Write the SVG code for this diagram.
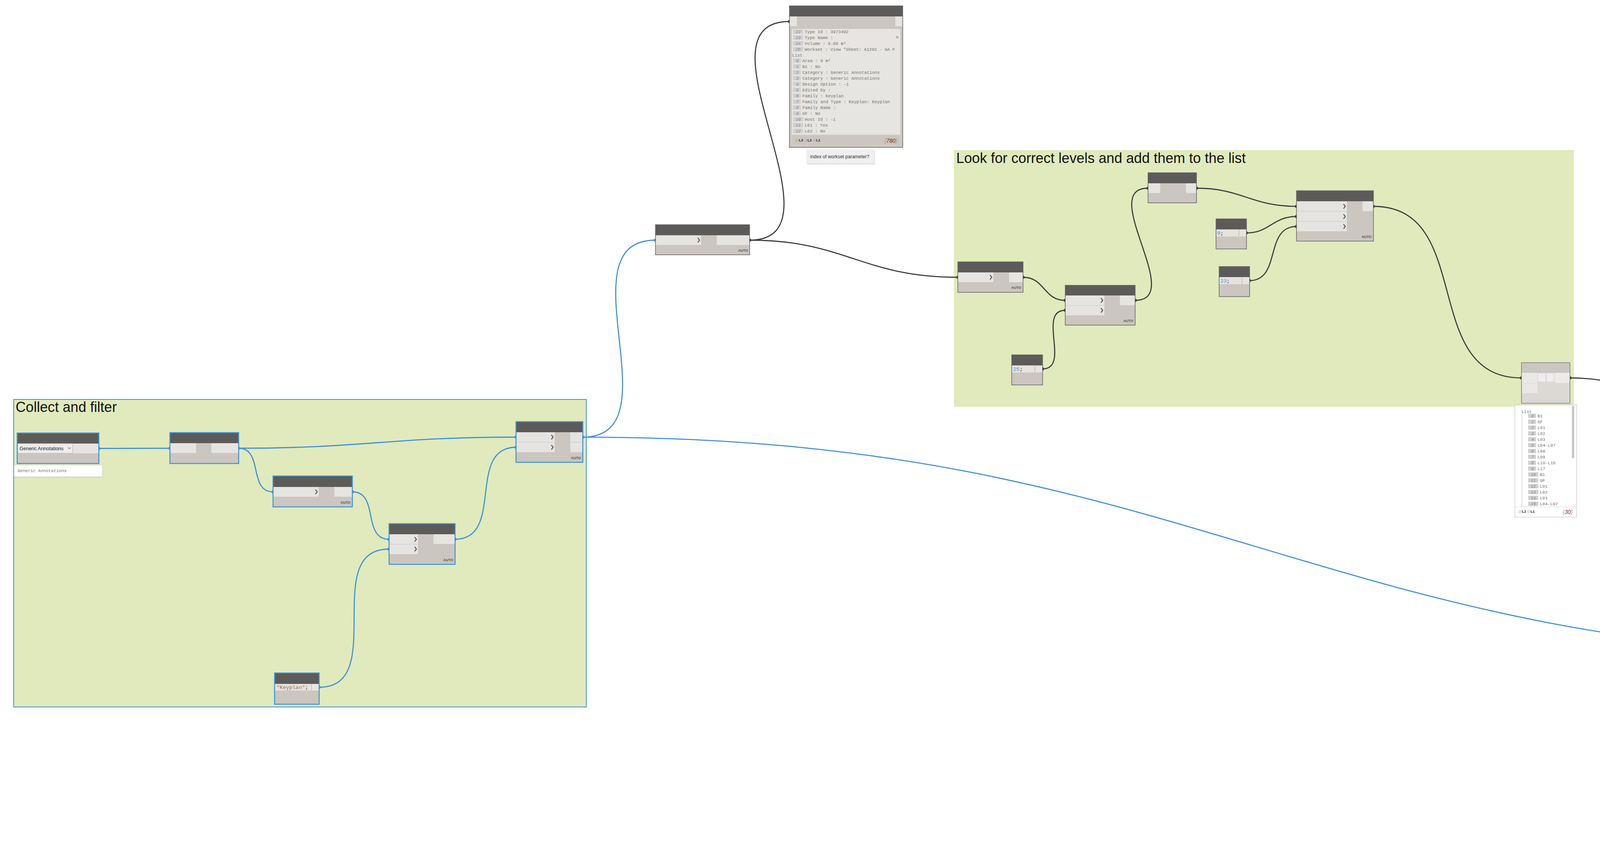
<svg xmlns="http://www.w3.org/2000/svg" width="5254" height="2198" viewBox="0 0 5254 2198">
<style>
.hd{fill:#5c5b59}
.bd{fill:#cbc6bf}
.pt{fill:#e5e4e0}
.bs{fill:none;stroke:#3f8fdb;stroke-width:2.5}
.bn{fill:none;stroke:#616161;stroke-width:1.5}
.ch{fill:none;stroke:#555;stroke-width:2.4;stroke-linejoin:round;stroke-linecap:round}
.auto{font-family:'Liberation Sans',Arial,sans-serif;font-size:9px;font-weight:bold;fill:#555;text-anchor:end}
.ttl{font-family:'Liberation Sans',Arial,sans-serif;font-size:36px;fill:#111}
.mono{font-family:'Liberation Mono','DejaVu Sans Mono',monospace;font-size:11px;fill:#727272}
.idx{fill:#d0d0d0}
.idxt{font-family:'Liberation Mono','DejaVu Sans Mono',monospace;font-size:11px;font-style:italic;fill:#8a8a8a;text-anchor:middle}
.code{font-family:'Liberation Mono','DejaVu Sans Mono',monospace;font-size:13.5px}
.w{fill:none;stroke:#3b3b3b;stroke-width:2.8}
.wb{fill:none;stroke:#3f8fdb;stroke-width:2.8}
.kn{fill:#3b3b3b}
.knb{fill:#3f8fdb}
.lv{font-family:'Liberation Sans',Arial,sans-serif;font-size:9px;font-weight:bold;fill:#222}
.at{fill:#aaa;font-weight:normal}
.cnt{font-family:'Liberation Sans',Arial,sans-serif;font-size:14px;font-style:italic;fill:#8b1a1a;text-anchor:end}
.br{fill:#999}
.num{font-family:'Liberation Sans',Arial,sans-serif;font-size:12.5px;fill:#666}
.grn{fill:#c8f5c8}
.sans{font-family:'Liberation Sans',Arial,sans-serif}
</style>
<defs>
<clipPath id="clipW"><rect x="2027" y="74" width="272" height="270"/></clipPath>
<clipPath id="clipL"><rect x="3879" y="1037" width="156" height="259"/></clipPath>
</defs>

<g id="groups">
<rect x="35" y="1022" width="1466" height="787" fill="#e0eabc" stroke="#3f8fdb" stroke-width="2"/>
<text class="ttl" x="40" y="1054" textLength="259" lengthAdjust="spacingAndGlyphs">Collect and filter</text>
<rect x="2442" y="384" width="1587" height="657" fill="#e0eabc"/>
<text class="ttl" x="2448" y="417" textLength="741" lengthAdjust="spacingAndGlyphs">Look for correct levels and add them to the list</text>
<rect x="4290" y="1584" width="938" height="577" fill="#ffd4a2"/>
<text class="ttl" x="4295" y="1617" textLength="111" lengthAdjust="spacingAndGlyphs">Action!</text>
</g>

<g id="connectors">
<path class="wb" d="M253,1147.5 C335,1147.5 353,1147 435,1147"/>
<path class="wb" d="M610.6,1147 C931,1147 1001,1118.5 1321,1118.5"/>
<path class="wb" d="M610.6,1147 C675,1147 635,1258.5 699,1258.5"/>
<path class="wb" d="M902,1258.5 C971,1258.5 927,1380 996,1380"/>
<path class="wb" d="M817,1758.5 C995,1758.5 818,1405 996,1405"/>
<path class="wb" d="M1164.6,1380 C1293,1380 1193,1144.5 1321,1144.5"/>
<path class="wb" d="M1492,1118.5 C1733,1118.5 1437,614.5 1678,614.5"/>
<path class="wb" d="M1492,1118.5 C3067,1118.5 3372,1681.5 4947,1681.5"/>
<path class="w" d="M1919,614.5 C2175,614.5 1765,55 2021,55"/>
<path class="w" d="M1919,614.5 C2163,614.5 2208,709.5 2452,709.5"/>
<path class="w" d="M2619,709.5 C2675,709.5 2671,768.5 2727,768.5"/>
<path class="w" d="M2669,944 C2741,944 2655,794 2727,794"/>
<path class="w" d="M2906,768.5 C3036,768.5 2809,481.5 2939,481.5"/>
<path class="w" d="M3063,481.5 C3180,481.5 3202,528 3319,528"/>
<path class="w" d="M3190.5,596 C3251,596 3258,554 3319,554"/>
<path class="w" d="M3198.5,718 C3281,718 3236,579.5 3319,579.5"/>
<path class="w" d="M3515.5,528 C3777,528 3633,967 3895,967"/>
<path class="w" d="M4019,967 C4553,967 4413,1707.5 4947,1707.5"/>
<path class="w" d="M4435,2138.5 C4728,2138.5 4654,1733.5 4947,1733.5"/>
<g class="knb">
<circle cx="253" cy="1147.5" r="4"/><circle cx="435" cy="1147" r="4"/>
<circle cx="610.6" cy="1147" r="4"/><circle cx="1321" cy="1118.5" r="4"/>
<circle cx="699" cy="1258.5" r="4"/><circle cx="902" cy="1258.5" r="4"/>
<circle cx="996" cy="1380" r="4"/><circle cx="817" cy="1758.5" r="4"/>
<circle cx="996" cy="1405" r="4"/><circle cx="1164.6" cy="1380" r="4"/>
<circle cx="1321" cy="1144.5" r="4"/><circle cx="1492" cy="1118.5" r="4"/>
<circle cx="1678" cy="614.5" r="4"/><circle cx="4947" cy="1681.5" r="4"/>
</g>
<g class="kn">
<circle cx="1919" cy="614.5" r="4"/><circle cx="2021" cy="55" r="4"/>
<circle cx="2452" cy="709.5" r="4"/><circle cx="2619" cy="709.5" r="4"/>
<circle cx="2727" cy="768.5" r="4"/><circle cx="2669" cy="944" r="4"/>
<circle cx="2727" cy="794" r="4"/><circle cx="2906" cy="768.5" r="4"/>
<circle cx="2939" cy="481.5" r="4"/><circle cx="3063" cy="481.5" r="4"/>
<circle cx="3319" cy="528" r="4"/><circle cx="3190.5" cy="596" r="4"/>
<circle cx="3319" cy="554" r="4"/><circle cx="3198.5" cy="718" r="4"/>
<circle cx="3319" cy="579.5" r="4"/><circle cx="3515.5" cy="528" r="4"/>
<circle cx="3895" cy="967" r="4"/><circle cx="4019" cy="967" r="4"/>
<circle cx="4947" cy="1707.5" r="4"/><circle cx="4435" cy="2138.5" r="4"/>
<circle cx="4947" cy="1733.5" r="4"/>
</g>
</g>

<g id="node-categories">
<rect x="44" y="1108" width="209" height="78" class="bd"/>
<rect x="44" y="1108" width="209" height="27" class="hd"/>
<rect x="186" y="1135" width="66" height="25" class="pt"/>
<rect x="45" y="1135" width="141" height="25" fill="#ececec" stroke="#b0b0b0" stroke-width="1"/>
<text class="sans" x="50" y="1152" font-size="12.5" fill="#222">Generic Annotations</text>
<path d="M174,1145 L177.5,1148.5 L181,1145" fill="none" stroke="#666" stroke-width="1.2"/>
<rect x="44" y="1108" width="209" height="78" class="bs"/>
</g>
<g id="preview-categories">
<rect x="36" y="1192" width="226" height="30" fill="#d0d0d0"/>
<rect x="36" y="1190" width="226" height="30" fill="#ffffff" stroke="#cfcfcf" stroke-width="1"/>
<text class="mono" x="45" y="1208" fill="#8a8a8a">Generic Annotations</text>
</g>

<g id="node-all-elements">
<rect x="435" y="1107" width="176" height="79" class="bd"/>
<rect x="435" y="1107" width="176" height="27" class="hd"/>
<rect x="436" y="1134" width="66" height="25" class="pt"/>
<rect x="541" y="1134" width="69" height="25" class="pt"/>
<rect x="435" y="1107" width="176" height="79" class="bs"/>
</g>

<g id="node-get-parameter">
<rect x="699" y="1218" width="203" height="79" class="bd"/>
<rect x="699" y="1218" width="203" height="28" class="hd"/>
<rect x="700" y="1246" width="116" height="25" class="pt"/>
<rect x="856" y="1246" width="45" height="25" class="pt"/>
<path class="ch" d="M808,1253.5 L812,1258.5 L808,1263.5"/>
<text class="auto" x="897" y="1289">AUTO</text>
<rect x="699" y="1218" width="203" height="79" class="bs"/>
</g>

<g id="node-contains">
<rect x="996" y="1340" width="169" height="104" class="bd"/>
<rect x="996" y="1340" width="169" height="27" class="hd"/>
<rect x="997" y="1367" width="73" height="25" class="pt"/>
<rect x="997" y="1393" width="73" height="25" class="pt"/>
<rect x="1110" y="1367" width="54" height="25" class="pt"/>
<path class="ch" d="M1062,1375 L1066,1380 L1062,1385"/>
<path class="ch" d="M1062,1400 L1066,1405 L1062,1410"/>
<text class="auto" x="1160" y="1436">AUTO</text>
<rect x="996" y="1340" width="169" height="104" class="bs"/>
</g>

<g id="node-filter">
<rect x="1321" y="1079" width="171" height="104" class="bd"/>
<rect x="1321" y="1079" width="171" height="27" class="hd"/>
<rect x="1322" y="1106" width="98" height="25" class="pt"/>
<rect x="1322" y="1132" width="98" height="25" class="pt"/>
<rect x="1460" y="1106" width="31" height="25" class="pt"/>
<rect x="1460" y="1132" width="31" height="25" class="pt"/>
<path class="ch" d="M1412,1113.5 L1416,1118.5 L1412,1123.5"/>
<path class="ch" d="M1412,1139.5 L1416,1144.5 L1412,1149.5"/>
<text class="auto" x="1487" y="1175">AUTO</text>
<rect x="1321" y="1079" width="171" height="104" class="bs"/>
</g>

<g id="node-code-keyplan">
<rect x="703" y="1722" width="114" height="80" class="bd"/>
<rect x="703" y="1722" width="114" height="28" class="hd"/>
<rect x="704" y="1750" width="93" height="17" fill="#e6e3df"/>
<rect x="798" y="1750" width="18" height="17" class="pt"/>
<line x1="797.5" y1="1750" x2="797.5" y2="1767" stroke="#a8a8a8" stroke-width="1"/>
<text class="code" x="708" y="1763"><tspan fill="#9c6b48">"Keyplan"</tspan><tspan fill="#333">;</tspan></text>
<rect x="703" y="1722" width="114" height="80" class="bs"/>
</g>

<g id="node-middle">
<rect x="1678" y="575" width="241" height="77" class="bd"/>
<rect x="1678" y="575" width="241" height="27" class="hd"/>
<rect x="1679" y="602" width="116" height="25" class="pt"/>
<rect x="1835" y="602" width="83" height="25" class="pt"/>
<path class="ch" d="M1787,609.5 L1791,614.5 L1787,619.5"/>
<text class="auto" x="1915" y="644">AUTO</text>
<rect x="1678" y="575" width="241" height="77" class="bn"/>
</g>

<g id="node-watch-parameters">
<rect x="2021" y="15" width="290" height="362" class="bd"/>
<rect x="2021" y="15" width="290" height="27" class="hd"/>
<rect x="2022" y="42" width="18" height="25" class="pt"/>
<rect x="2292" y="42" width="18" height="25" class="pt"/>
<rect x="2027" y="74" width="278" height="270" fill="#e6e5e1"/>
<circle cx="2297" cy="95" r="3" fill="#aaa"/>
<g clip-path="url(#clipW)">
<g class="idx">
<rect x="2030" y="75.5" width="26" height="11"/>
<rect x="2030" y="90.5" width="26" height="11"/>
<rect x="2030" y="105.5" width="26" height="11"/>
<rect x="2030" y="120.5" width="26" height="11"/>
<rect x="2030" y="149.5" width="20" height="11"/>
<rect x="2030" y="164.5" width="20" height="11"/>
<rect x="2030" y="179.5" width="20" height="11"/>
<rect x="2030" y="194.5" width="20" height="11"/>
<rect x="2030" y="209.5" width="20" height="11"/>
<rect x="2030" y="224.5" width="20" height="11"/>
<rect x="2030" y="239.5" width="20" height="11"/>
<rect x="2030" y="254.5" width="20" height="11"/>
<rect x="2030" y="269.5" width="20" height="11"/>
<rect x="2030" y="284.5" width="20" height="11"/>
<rect x="2030" y="299.5" width="26" height="11"/>
<rect x="2030" y="314.5" width="26" height="11"/>
<rect x="2030" y="329.5" width="26" height="11"/>
</g>
<g class="idxt">
<text x="2043" y="85">22</text>
<text x="2043" y="100">23</text>
<text x="2043" y="115">24</text>
<text x="2043" y="130">25</text>
<text x="2041" y="159">0</text>
<text x="2041" y="174">1</text>
<text x="2041" y="189">2</text>
<text x="2041" y="204">3</text>
<text x="2041" y="219">4</text>
<text x="2041" y="234">5</text>
<text x="2041" y="249">6</text>
<text x="2041" y="264">7</text>
<text x="2041" y="279">8</text>
<text x="2041" y="294">9</text>
<text x="2043" y="309">10</text>
<text x="2043" y="324">11</text>
<text x="2043" y="339">12</text>
</g>
<g class="mono">
<text x="2060" y="85">Type Id : 3973492</text>
<text x="2060" y="100">Type Name :</text>
<text x="2060" y="115">Volume : 0.00 m³</text>
<text x="2060" y="130">Workset : View "Sheet: A1202 - GA F</text>
<text x="2028" y="145">List</text>
<text x="2054" y="159">Area : 0 m²</text>
<text x="2054" y="174">B1 : No</text>
<text x="2054" y="189">Category : Generic Annotations</text>
<text x="2054" y="204">Category : Generic Annotations</text>
<text x="2054" y="219">Design Option : -1</text>
<text x="2054" y="234">Edited by :</text>
<text x="2054" y="249">Family : Keyplan</text>
<text x="2054" y="264">Family and Type : Keyplan: Keyplan</text>
<text x="2054" y="279">Family Name :</text>
<text x="2054" y="294">GF : No</text>
<text x="2060" y="309">Host Id : -1</text>
<text x="2060" y="324">L01 : Yes</text>
<text x="2060" y="339">L02 : No</text>
</g>
</g>
<rect x="2027" y="345" width="278" height="27" fill="none" stroke="#dedbd6" stroke-width="1"/>
<text class="lv" x="2036" y="362"><tspan class="at">@</tspan>L3 <tspan class="at">@</tspan>L2 <tspan class="at">@</tspan>L1</text>
<text class="cnt" x="2297" y="365"><tspan class="br">{</tspan>780<tspan class="br">}</tspan></text>
<rect x="2021" y="15" width="290" height="362" class="bn"/>
</g>

<g id="note-workset">
<rect x="2066" y="386" width="174" height="35" fill="#e2e2e2"/>
<rect x="2064" y="383" width="174" height="35" fill="#efefef"/>
<text class="sans" x="2074" y="405" font-size="12" fill="#333">index of workset parameter?</text>
</g>

<g id="node-a">
<rect x="2452" y="670" width="167" height="78" class="bd"/>
<rect x="2452" y="670" width="167" height="27" class="hd"/>
<rect x="2453" y="697" width="90" height="25" class="pt"/>
<rect x="2583" y="697" width="35" height="25" class="pt"/>
<path class="ch" d="M2535,704.5 L2539,709.5 L2535,714.5"/>
<text class="auto" x="2614" y="739">AUTO</text>
<rect x="2452" y="670" width="167" height="78" class="bn"/>
</g>

<g id="node-b">
<rect x="2727" y="730" width="179" height="102" class="bd"/>
<rect x="2727" y="730" width="179" height="26" class="hd"/>
<rect x="2728" y="756" width="99" height="25" class="pt"/>
<rect x="2728" y="782" width="99" height="25" class="pt"/>
<rect x="2867" y="756" width="38" height="25" class="pt"/>
<path class="ch" d="M2819,763.5 L2823,768.5 L2819,773.5"/>
<path class="ch" d="M2819,789 L2823,794 L2819,799"/>
<text class="auto" x="2901" y="824">AUTO</text>
<rect x="2727" y="730" width="179" height="102" class="bn"/>
</g>

<g id="node-code-25">
<rect x="2590" y="908" width="79" height="77" class="bd"/>
<rect x="2590" y="908" width="79" height="27" class="hd"/>
<rect x="2591" y="935" width="58" height="18" fill="#e6e3df"/>
<rect x="2650" y="935" width="18" height="18" class="pt"/>
<line x1="2649.5" y1="935" x2="2649.5" y2="953" stroke="#a8a8a8" stroke-width="1"/>
<text class="code" x="2594" y="949"><tspan fill="#3e8ee0">25</tspan><tspan fill="#333">;</tspan></text>
<rect x="2590" y="908" width="79" height="77" class="bn"/>
</g>

<g id="node-d">
<rect x="2939" y="442" width="124" height="77" class="bd"/>
<rect x="2939" y="442" width="124" height="27" class="hd"/>
<rect x="2940" y="469" width="30" height="25" class="pt"/>
<rect x="3036" y="469" width="26" height="25" class="pt"/>
<rect x="2939" y="442" width="124" height="77" class="bn"/>
</g>

<g id="node-code-0">
<rect x="3113" y="560" width="78" height="77" class="bd"/>
<rect x="3113" y="560" width="78" height="27" class="hd"/>
<rect x="3114" y="587" width="57" height="18" fill="#e6e3df"/>
<rect x="3172" y="587" width="18" height="18" class="pt"/>
<line x1="3171.5" y1="587" x2="3171.5" y2="605" stroke="#a8a8a8" stroke-width="1"/>
<text class="code" x="3116" y="601"><tspan fill="#3e8ee0">0</tspan><tspan fill="#333">;</tspan></text>
<rect x="3113" y="560" width="78" height="77" class="bn"/>
</g>

<g id="node-code-23">
<rect x="3121" y="682" width="78" height="77" class="bd"/>
<rect x="3121" y="682" width="78" height="27" class="hd"/>
<rect x="3122" y="709" width="57" height="18" fill="#e6e3df"/>
<rect x="3180" y="709" width="18" height="18" class="pt"/>
<line x1="3179.5" y1="709" x2="3179.5" y2="727" stroke="#a8a8a8" stroke-width="1"/>
<text class="code" x="3124" y="723"><tspan fill="#3e8ee0">23</tspan><tspan fill="#333">;</tspan></text>
<rect x="3121" y="682" width="78" height="77" class="bn"/>
</g>

<g id="node-g">
<rect x="3319" y="488" width="197" height="129" class="bd"/>
<rect x="3319" y="488" width="197" height="27" class="hd"/>
<rect x="3320" y="515" width="128" height="25" class="pt"/>
<rect x="3320" y="541" width="128" height="25" class="pt"/>
<rect x="3320" y="567" width="128" height="25" class="pt"/>
<rect x="3488" y="515" width="27" height="25" class="pt"/>
<path class="ch" d="M3440,523 L3444,528 L3440,533"/>
<path class="ch" d="M3440,549 L3444,554 L3440,559"/>
<path class="ch" d="M3440,574.5 L3444,579.5 L3440,584.5"/>
<text class="auto" x="3511" y="609">AUTO</text>
<rect x="3319" y="488" width="197" height="129" class="bn"/>
</g>

<g id="node-h">
<rect x="3895" y="928" width="124" height="104" fill="#dcd9d4"/>
<rect x="3895" y="928" width="124" height="26" fill="#cac6c0"/>
<rect x="3896" y="954" width="40" height="26" fill="#e9e8e5"/>
<rect x="3896" y="981" width="40" height="25" fill="#e9e8e5"/>
<rect x="3937" y="955" width="20" height="22" fill="#ededed" stroke="#d8d8d8" stroke-width="0.8"/>
<rect x="3959" y="955" width="20" height="22" fill="#ededed" stroke="#d8d8d8" stroke-width="0.8"/>
<rect x="3980" y="954" width="38" height="26" fill="#ecebe8"/>
<rect x="3895" y="928" width="124" height="104" fill="none" stroke="#7a7a7a" stroke-width="1.5"/>
</g>

<g id="watch-levels">
<rect x="3878" y="1036" width="158" height="287" fill="#ffffff" stroke="#c4c4c4" stroke-width="1.2"/>
<g clip-path="url(#clipL)">
<text class="mono" x="3895" y="1057" fill="#777">List</text>
<line x1="3896" y1="1060" x2="3896" y2="1296" stroke="#bbb" stroke-width="1"/>
<g class="idx">
<rect x="3912" y="1058.5" width="20" height="11"/>
<rect x="3912" y="1073.5" width="20" height="11"/>
<rect x="3912" y="1088.5" width="20" height="11"/>
<rect x="3912" y="1103.5" width="20" height="11"/>
<rect x="3912" y="1118.5" width="20" height="11"/>
<rect x="3912" y="1133.5" width="20" height="11"/>
<rect x="3912" y="1148.5" width="20" height="11"/>
<rect x="3912" y="1163.5" width="20" height="11"/>
<rect x="3912" y="1178.5" width="20" height="11"/>
<rect x="3912" y="1193.5" width="20" height="11"/>
<rect x="3912" y="1208.5" width="26" height="11"/>
<rect x="3912" y="1223.5" width="26" height="11"/>
<rect x="3912" y="1238.5" width="26" height="11"/>
<rect x="3912" y="1253.5" width="26" height="11"/>
<rect x="3912" y="1268.5" width="26" height="11"/>
<rect x="3912" y="1283.5" width="26" height="11"/>
</g>
<g class="idxt">
<text x="3923" y="1068">0</text>
<text x="3923" y="1083">1</text>
<text x="3923" y="1098">2</text>
<text x="3923" y="1113">3</text>
<text x="3923" y="1128">4</text>
<text x="3923" y="1143">5</text>
<text x="3923" y="1158">6</text>
<text x="3923" y="1173">7</text>
<text x="3923" y="1188">8</text>
<text x="3923" y="1203">9</text>
<text x="3925" y="1218">10</text>
<text x="3925" y="1233">11</text>
<text x="3925" y="1248">12</text>
<text x="3925" y="1263">13</text>
<text x="3925" y="1278">14</text>
<text x="3925" y="1293">15</text>
</g>
<g class="mono">
<text x="3936" y="1068">B1</text>
<text x="3936" y="1083">GF</text>
<text x="3936" y="1098">L01</text>
<text x="3936" y="1113">L02</text>
<text x="3936" y="1128">L03</text>
<text x="3936" y="1143">L04-L07</text>
<text x="3936" y="1158">L08</text>
<text x="3936" y="1173">L09</text>
<text x="3936" y="1188">L10-L16</text>
<text x="3936" y="1203">L17</text>
<text x="3942" y="1218">B1</text>
<text x="3942" y="1233">GF</text>
<text x="3942" y="1248">L01</text>
<text x="3942" y="1263">L02</text>
<text x="3942" y="1278">L03</text>
<text x="3942" y="1293">L04-L07</text>
</g>
</g>
<rect x="4024" y="1038" width="6" height="135" rx="3" fill="#c6c6c6"/>
<line x1="3878" y1="1297" x2="4036" y2="1297" stroke="#d6d6d6" stroke-width="1"/>
<text class="lv" x="3887" y="1312"><tspan class="at">@</tspan>L2 <tspan class="at">@</tspan>L1</text>
<text class="cnt" x="4026" y="1315"><tspan class="br">{</tspan>30<tspan class="br">}</tspan></text>
</g>

<g id="node-action">
<rect x="4947" y="1642" width="270" height="129" class="bd"/>
<rect x="4947" y="1642" width="270" height="27" class="hd"/>
<rect x="4948" y="1669" width="167" height="25" class="pt"/>
<rect x="4948" y="1695" width="167" height="25" class="pt"/>
<rect x="4948" y="1721" width="167" height="25" class="pt"/>
<rect x="5155" y="1669" width="61" height="25" class="pt"/>
<path class="ch" d="M5107,1676.5 L5111,1681.5 L5107,1686.5"/>
<path class="ch" d="M5107,1702.5 L5111,1707.5 L5107,1712.5"/>
<path class="ch" d="M5107,1728.5 L5111,1733.5 L5107,1738.5"/>
<text class="auto" x="5212" y="1763">AUTO</text>
<rect x="4947" y="1642" width="270" height="129" fill="none" stroke="#555" stroke-width="1.8"/>
</g>

<g id="watch-action">
<rect x="4937" y="1776" width="290" height="287" fill="#ffffff" stroke="#c4c4c4" stroke-width="1.2"/>
<line x1="4954" y1="1777" x2="4954" y2="2026" stroke="#bbb" stroke-width="1"/>
<circle cx="4954" cy="2026" r="2.5" fill="#bbb"/>
<g class="idx">
<rect x="4971" y="1781.5" width="26" height="11"/>
<rect x="4971" y="1802.5" width="26" height="11"/>
<rect x="4971" y="1823.5" width="26" height="11"/>
<rect x="4971" y="1844.5" width="26" height="11"/>
<rect x="4971" y="1865.5" width="26" height="11"/>
<rect x="4971" y="1886.5" width="26" height="11"/>
<rect x="4971" y="1907.5" width="26" height="11"/>
<rect x="4971" y="1928.5" width="26" height="11"/>
<rect x="4971" y="1949.5" width="26" height="11"/>
<rect x="4971" y="1970.5" width="26" height="11"/>
<rect x="4971" y="1991.5" width="26" height="11"/>
<rect x="4971" y="2012.5" width="26" height="11"/>
</g>
<g class="grn">
<rect x="5061" y="1779" width="56" height="16"/>
<rect x="5061" y="1800" width="56" height="16"/>
<rect x="5061" y="1821" width="56" height="16"/>
<rect x="5061" y="1842" width="56" height="16"/>
<rect x="5061" y="1863" width="56" height="16"/>
<rect x="5061" y="1884" width="56" height="16"/>
<rect x="5061" y="1905" width="56" height="16"/>
<rect x="5061" y="1926" width="56" height="16"/>
<rect x="5061" y="1947" width="56" height="16"/>
<rect x="5061" y="1968" width="56" height="16"/>
<rect x="5061" y="1989" width="56" height="16"/>
<rect x="5061" y="2010" width="56" height="16"/>
</g>
<g class="idxt">
<text x="4984" y="1791">18</text>
<text x="4984" y="1812">19</text>
<text x="4984" y="1833">20</text>
<text x="4984" y="1854">21</text>
<text x="4984" y="1875">22</text>
<text x="4984" y="1896">23</text>
<text x="4984" y="1917">24</text>
<text x="4984" y="1938">25</text>
<text x="4984" y="1959">26</text>
<text x="4984" y="1980">27</text>
<text x="4984" y="2001">28</text>
<text x="4984" y="2022">29</text>
</g>
<g class="mono">
<text x="5001" y="1791">Keyplan</text>
<text x="5001" y="1812">Keyplan</text>
<text x="5001" y="1833">Keyplan</text>
<text x="5001" y="1854">Keyplan</text>
<text x="5001" y="1875">Keyplan</text>
<text x="5001" y="1896">Keyplan</text>
<text x="5001" y="1917">Keyplan</text>
<text x="5001" y="1938">Keyplan</text>
<text x="5001" y="1959">Keyplan</text>
<text x="5001" y="1980">Keyplan</text>
<text x="5001" y="2001">Keyplan</text>
<text x="5001" y="2022">Keyplan</text>
</g>
<g class="num">
<text x="5065" y="1792">3983652</text>
<text x="5065" y="1813">3983653</text>
<text x="5065" y="1834">3983654</text>
<text x="5065" y="1855">3983655</text>
<text x="5065" y="1876">3983656</text>
<text x="5065" y="1897">3983657</text>
<text x="5065" y="1918">3983658</text>
<text x="5065" y="1939">3983659</text>
<text x="5065" y="1960">3983660</text>
<text x="5065" y="1981">3983661</text>
<text x="5065" y="2002">3983665</text>
<text x="5065" y="2023">4465344</text>
</g>
<rect x="5216" y="1936" width="5" height="99" rx="2.5" fill="#c6c6c6"/>
<line x1="4937" y1="2037" x2="5227" y2="2037" stroke="#d6d6d6" stroke-width="1"/>
<text class="lv" x="4946" y="2055"><tspan class="at">@</tspan>L2 <tspan class="at">@</tspan>L1</text>
<text class="cnt" x="5217" y="2058"><tspan class="br">{</tspan>30<tspan class="br">}</tspan></text>
</g>

<g id="node-boolean">
<rect x="4300" y="2099" width="135" height="52" class="bd"/>
<rect x="4300" y="2099" width="135" height="27" class="hd"/>
<rect x="4416" y="2126" width="18" height="25" class="pt"/>
<circle cx="4317" cy="2139" r="5.5" fill="#fff" stroke="#555" stroke-width="1"/>
<circle cx="4317" cy="2139" r="3" fill="#222"/>
<text class="sans" x="4325" y="2144" font-size="13.5" fill="#111">True</text>
<circle cx="4370" cy="2139" r="5.5" fill="#fff" stroke="#777" stroke-width="1"/>
<text class="sans" x="4377" y="2144" font-size="13.5" fill="#111">False</text>
<rect x="4300" y="2099" width="135" height="52" class="bn"/>
</g>
</svg>
